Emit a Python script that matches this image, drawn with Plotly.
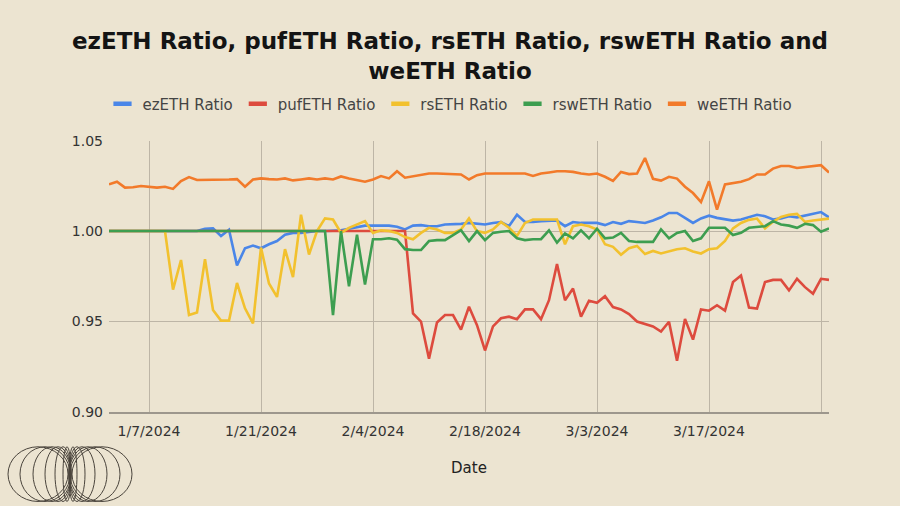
import pandas as pd
import plotly.graph_objects as go

# ---------------- data ----------------
start_date = "2024-01-02"
series_names = ["ezETH Ratio", "pufETH Ratio", "rsETH Ratio", "rswETH Ratio", "weETH Ratio"]

ezeth = [
    1.0, 1.0, 1.0, 1.0, 1.0, 1.0, 1.0, 1.0, 1.0, 1.0,
    1.0, 1.0, 1.0013, 1.0015, 0.9973, 1.0007, 0.981, 0.9905, 0.992, 0.9905,
    0.9927, 0.9945, 0.998, 0.999, 0.999, 0.9996, 1.0, 1.0, 1.0, 1.0004,
    1.0013, 1.002, 1.003, 1.003, 1.003, 1.003, 1.0024, 1.0009, 1.003, 1.0033,
    1.0027, 1.0027, 1.0036, 1.0036, 1.004, 1.0045, 1.004, 1.0036, 1.0045, 1.005,
    1.0027, 1.009, 1.005, 1.005, 1.0055, 1.0055, 1.0058, 1.0027, 1.005, 1.0045,
    1.0045, 1.0045, 1.0033, 1.005, 1.004, 1.0055, 1.005, 1.0045, 1.0058, 1.0076,
    1.01, 1.01, 1.0073, 1.0045, 1.007, 1.0085, 1.0073, 1.0064, 1.0058, 1.0064,
    1.0076, 1.009, 1.0082, 1.0064, 1.007, 1.0082, 1.0076, 1.0087, 1.0095, 1.0105,
    1.0076,
]
pufeth = [
    1.0, 1.0, 1.0, 1.0, 1.0, 1.0, 1.0, 1.0, 1.0, 1.0,
    1.0, 1.0, 1.0, 1.0, 1.0, 1.0, 1.0, 1.0, 1.0, 1.0,
    1.0, 1.0, 1.0, 1.0, 1.0, 1.0, 1.0, 1.0, 1.0, 1.0,
    1.0, 1.0, 1.0, 1.0, 1.0, 1.0, 1.0, 1.0, 0.9545, 0.95,
    0.9295, 0.9495, 0.9536, 0.9536, 0.9455, 0.9582, 0.948, 0.934, 0.9473, 0.9518,
    0.9527, 0.9513, 0.9567, 0.9567, 0.9513, 0.9618, 0.9818, 0.9618, 0.9682, 0.9527,
    0.9615, 0.9604, 0.964, 0.958, 0.9567, 0.9541, 0.95, 0.9485, 0.9473, 0.9445,
    0.9499, 0.9283, 0.9514, 0.940, 0.9567, 0.956, 0.959, 0.956, 0.9718, 0.9754,
    0.9577, 0.9572, 0.9718, 0.973, 0.973, 0.9672, 0.9736, 0.969, 0.9654, 0.9736,
    0.973,
]
rseth = [
    1.0, 1.0, 1.0, 1.0, 1.0, 1.0, 1.0, 1.0, 0.9676, 0.984,
    0.9536, 0.955, 0.9845, 0.9564, 0.9505, 0.9505, 0.9713, 0.9573, 0.949, 0.9909,
    0.971, 0.9636, 0.99, 0.9745, 1.009, 0.987, 1.0, 1.007, 1.0064, 0.999,
    1.0018, 1.0036, 1.0055, 0.999, 1.0004, 1.0, 0.999, 0.9967, 0.9955, 0.999,
    1.0018, 1.0009, 0.999, 0.999, 1.0009, 1.007, 1.0, 0.999, 1.0009, 1.005,
    1.0018, 0.9973, 1.0045, 1.0064, 1.0064, 1.0064, 1.0064, 0.9927, 1.0027, 1.0036,
    1.0027, 1.0009, 0.9927, 0.9913, 0.9869, 0.9905, 0.9918, 0.9873, 0.989, 0.9876,
    0.9887, 0.99, 0.9905, 0.9887, 0.9876, 0.99, 0.9905, 0.9945, 1.0015, 1.0045,
    1.0062, 1.0069, 1.0015, 1.0051, 1.0078, 1.009, 1.0095, 1.0051, 1.0058, 1.0064,
    1.0069,
]
rsweth = [
    1.0, 1.0, 1.0, 1.0, 1.0, 1.0, 1.0, 1.0, 1.0, 1.0,
    1.0, 1.0, 1.0, 1.0, 1.0, 1.0, 1.0, 1.0, 1.0, 1.0,
    1.0, 1.0, 1.0, 1.0, 1.0, 1.0, 1.0, 1.0, 0.9536, 1.0,
    0.9695, 0.998, 0.9705, 0.9955, 0.9955, 0.996, 0.9952, 0.99, 0.9895, 0.9895,
    0.9945, 0.995, 0.995, 0.9978, 1.0005, 0.9945, 1.0, 0.995, 0.999, 0.9996,
    1.0, 0.996, 0.995, 0.9955, 0.9955, 1.0004, 0.9936, 0.9987, 0.996, 1.0004,
    0.996, 1.0013, 0.996, 0.9964, 0.999, 0.9945, 0.994, 0.994, 0.994, 1.0009,
    0.996, 0.999, 1.0, 0.9945, 0.996, 1.0018, 1.0018, 1.0018, 0.9978, 0.999,
    1.0018, 1.0022, 1.0027, 1.0055, 1.0036, 1.003, 1.0018, 1.004, 1.0033, 0.9996,
    1.0015,
]
weeth = [
    1.0258, 1.0273, 1.024, 1.0242, 1.0249, 1.0245, 1.024, 1.0245, 1.0233, 1.0276,
    1.0298, 1.0282, 1.0282, 1.0282, 1.0282, 1.0285, 1.0287, 1.0245, 1.0285, 1.0291,
    1.0287, 1.0285, 1.0291, 1.028, 1.0285, 1.0291, 1.0285, 1.0291, 1.0285, 1.0302,
    1.0291, 1.0282, 1.0273, 1.0285, 1.0304, 1.0291, 1.0331, 1.0295, 1.0304, 1.0313,
    1.0318, 1.0318, 1.0316, 1.0316, 1.0313, 1.0285, 1.0309, 1.0318, 1.0318, 1.0318,
    1.0318, 1.0315, 1.0318, 1.0305, 1.0318, 1.0324, 1.0331, 1.0331, 1.0327, 1.0318,
    1.0313, 1.0318, 1.03, 1.0277, 1.0327, 1.0315, 1.0318, 1.0404, 1.0289, 1.0279,
    1.030, 1.029, 1.0245, 1.021, 1.016, 1.0275, 1.0118, 1.0258, 1.0264, 1.0273,
    1.0287, 1.0313, 1.0313, 1.0345, 1.036, 1.036, 1.0349, 1.0355, 1.036, 1.0364,
    1.0324,
]

tick_dates = ["2024-01-07", "2024-01-21", "2024-02-04", "2024-02-18",
              "2024-03-03", "2024-03-17", "2024-03-31"]
tick_labels = ["1/7/2024", "1/21/2024", "2/4/2024", "2/18/2024",
               "3/3/2024", "3/17/2024", ""]
y_ticks = [0.90, 0.95, 1.00, 1.05]

# ---------------- style ----------------
colors = ["#4a86e8", "#dd4b3e", "#f2c12e", "#3d9e50", "#f27a2a"]
bg = "#ece4d1"
grid = "#bdb5a6"
FONT = "DejaVu Sans"

dates = pd.date_range(start_date, periods=len(ezeth), freq="D")
all_series = [ezeth, pufeth, rseth, rsweth, weeth]

fig = go.Figure()
for name, vals, col in zip(series_names, all_series, colors):
    fig.add_trace(go.Scatter(
        x=dates, y=vals, name=name, mode="lines",
        line=dict(color=col, width=2.6), showlegend=False,
    ))
# legend entries (short line symbols)
for name, col in zip(series_names, colors):
    fig.add_trace(go.Scatter(
        x=[None], y=[None], name=name, mode="markers",
        marker=dict(symbol="line-ew", size=13, color=col,
                    line=dict(color=col, width=4.5)),
        showlegend=True,
    ))

# decorative logo (rings), bottom-left, in paper coords
L, R, T, B = 109, 829, 139, 412
def px_x(v):
    return (v - L) / (R - L)
def px_y(v):
    return (B - v) / (B - T)

rings = [(38, 30), (45, 25), (52, 19), (58, 13), (63, 8), (67, 4),
         (102, 30), (95, 25), (88, 19), (82, 13), (77, 8), (73, 4)]
shapes = []
for cx, a in rings:
    shapes.append(dict(
        type="circle", xref="paper", yref="paper",
        x0=px_x(cx - a), x1=px_x(cx + a), y0=px_y(502), y1=px_y(447),
        line=dict(color="#4a443c", width=1), fillcolor="rgba(0,0,0,0)",
        layer="above",
    ))

fig.update_layout(
    width=900, height=506,
    margin=dict(l=L, r=900 - R, t=T, b=506 - B),
    paper_bgcolor=bg, plot_bgcolor=bg,
    font=dict(family=FONT, color="#333333"),
    title=dict(
        text="<b>ezETH Ratio, pufETH Ratio, rsETH Ratio, rswETH Ratio and<br>weETH Ratio</b>",
        font=dict(family=FONT, size=23, color="#141414"),
        x=0.5, xref="container", xanchor="center",
        y=1 - 49 / 506, yref="container", yanchor="middle",
    ),
    legend=dict(
        orientation="h", x=0.5, xref="container", xanchor="center",
        y=1 - 104 / 506, yref="container", yanchor="middle",
        font=dict(family=FONT, size=15, color="#444444"),
        bgcolor="rgba(0,0,0,0)",
    ),
    xaxis=dict(
        type="date", range=[dates[0], dates[-1]],
        tickvals=tick_dates, ticktext=tick_labels,
        showgrid=True, gridcolor=grid, gridwidth=1,
        showline=True, linecolor="#9d978d", linewidth=1.5,
        zeroline=False, ticks="", ticklabelstandoff=5,
        tickfont=dict(family=FONT, size=14, color="#333333"),
        title=dict(text="Date", font=dict(family=FONT, size=15, color="#222222"), standoff=25),
    ),
    yaxis=dict(
        range=[0.90, 1.05], tickvals=y_ticks, tickformat=".2f",
        showgrid=True, gridcolor=grid, gridwidth=1,
        zeroline=False, showline=False, ticks="", ticklabelstandoff=5,
        tickfont=dict(family=FONT, size=14, color="#333333"),
    ),
    shapes=shapes,
)

fig.write_html("out.html", config={"displayModeBar": False},
               post_script="document.body.style.margin='0';")
